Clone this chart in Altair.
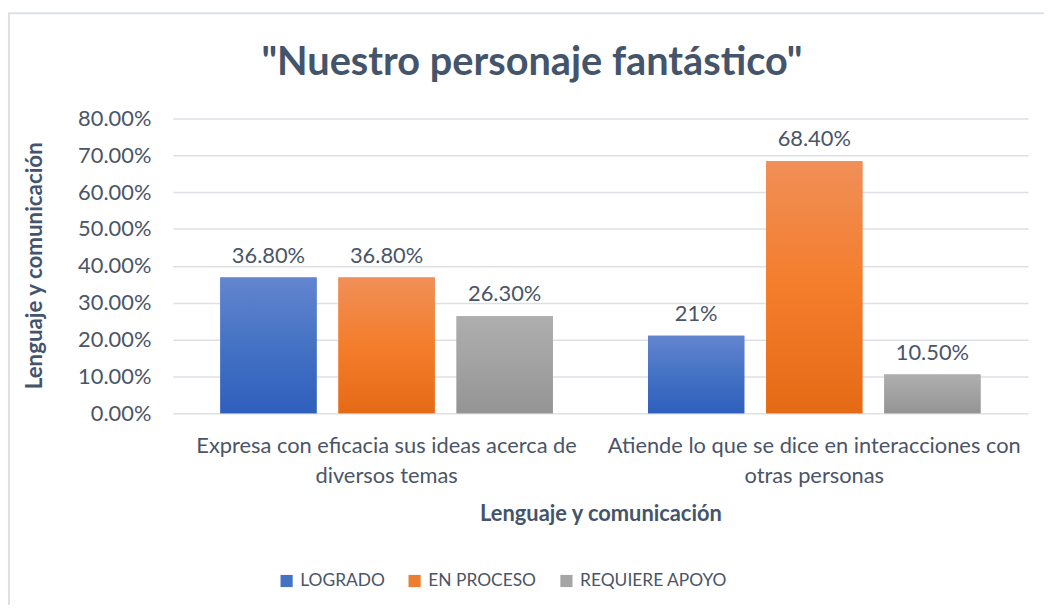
import json
import altair as alt
import pandas as pd

# ---- data ----
category_lines = [
    ["Expresa con eficacia sus ideas acerca de", "diversos temas"],
    ["Atiende lo que se dice en interacciones con", "otras personas"],
]
categories = [" ".join(l) for l in category_lines]
series = ["LOGRADO", "EN PROCESO", "REQUIERE APOYO"]
values = {
    "LOGRADO": [0.368, 0.21],
    "EN PROCESO": [0.368, 0.684],
    "REQUIERE APOYO": [0.263, 0.105],
}
labels = {
    "LOGRADO": ["36.80%", "21%"],
    "EN PROCESO": ["36.80%", "68.40%"],
    "REQUIERE APOYO": ["26.30%", "10.50%"],
}
y_ticks = [0, 0.1, 0.2, 0.3, 0.4, 0.5, 0.6, 0.7, 0.8]
title_text = '"Nuestro personaje fantástico"'
axis_title = "Lenguaje y comunicación"

rows = []
for s in series:
    for i, c in enumerate(categories):
        rows.append({"cat": c, "serie": s, "v": values[s][i], "lab": labels[s][i]})
df = pd.DataFrame(rows)

# ---- styling ----
FONT = "Lato"
TXT = "#4A5567"
TITLE_C = "#44546A"
solid = ["#4472C4", "#ED7D31", "#A5A5A5"]
grads = {
    "LOGRADO": ["#6385CF", "#4472C4", "#2E5FBC"],
    "EN PROCESO": ["#F08F58", "#F47D2B", "#E56A16"],
    "REQUIERE APOYO": ["#AEAEAE", "#A2A2A2", "#949494"],
}

W, H = 862, 297

label_map = {c: l for c, l in zip(categories, category_lines)}
label_expr = " : ".join(
    [f"datum.value == {json.dumps(c)} ? {json.dumps(l)}" for c, l in label_map.items()]
) + " : datum.label"

x_enc = alt.X(
    "cat:N",
    sort=categories,
    scale=alt.Scale(paddingInner=0, paddingOuter=0),
    axis=alt.Axis(
        title=axis_title,
        labelAngle=0,
        labelExpr=label_expr,
        labelFont=FONT,
        labelFontSize=22,
        labelColor=TXT,
        labelLineHeight=30,
        labelPadding=33,
        labelBaseline="middle",
        labelLimit=0,
        ticks=False,
        domain=False,
        titleFont=FONT,
        titleFontSize=22,
        titleFontWeight="bold",
        titleColor=TITLE_C,
        titleY=101,
        titleBaseline="middle",
    ),
)
xo_enc = alt.XOffset(
    "serie:N", sort=series, scale=alt.Scale(paddingInner=0.185, paddingOuter=0.403)
)
y_enc = alt.Y(
    "v:Q",
    scale=alt.Scale(domain=[0, 0.8], nice=False),
    axis=alt.Axis(
        title=axis_title,
        values=y_ticks,
        format=".2%",
        labelFont=FONT,
        labelFontSize=22,
        labelColor=TXT,
        labelPadding=22,
        labelOverlap=False,
        ticks=False,
        domain=False,
        gridColor="#DDE1E6",
        gridWidth=1.5,
        titleFont=FONT,
        titleFontSize=22.5,
        titleFontWeight="bold",
        titleColor=TITLE_C,
        titleX=-139,
        titleY=148,
        titleAngle=-90,
        titleBaseline="middle",
        titleAlign="center",
    ),
)

base = alt.Chart(df)

bars = base.mark_bar().encode(
    x=x_enc,
    xOffset=xo_enc,
    y=y_enc,
    color=alt.Color(
        "serie:N",
        sort=series,
        scale=alt.Scale(domain=series, range=solid),
        legend=alt.Legend(
            title=None,
            orient="none",
            legendX=106,
            legendY=457,
            direction="horizontal",
            symbolType="square",
            symbolSize=150,
            symbolStrokeWidth=0,
            labelFont=FONT,
            labelFontSize=17.5,
            labelColor=TXT,
            labelOffset=5,
            labelLimit=0,
            columnPadding=21,
        ),
    ),
)

grad_layers = []
for s in series:
    c0, c1, c2 = grads[s]
    g = alt.Gradient(
        gradient="linear",
        x1=0, x2=0, y1=0, y2=1,
        stops=[
            alt.GradientStop(color=c0, offset=0),
            alt.GradientStop(color=c1, offset=0.5),
            alt.GradientStop(color=c2, offset=1),
        ],
    )
    grad_layers.append(
        base.transform_filter(alt.datum.serie == s)
        .mark_bar(color=g)
        .encode(x=x_enc, xOffset=xo_enc, y=y_enc)
    )

text = base.mark_text(
    font=FONT, fontSize=22, color=TXT, baseline="alphabetic", dy=-15
).encode(
    x=x_enc,
    xOffset=xo_enc,
    y=y_enc,
    text="lab:N",
)

border = alt.Chart(alt.Data(values=[{"a": 1}])).mark_rect(
    fill=None, stroke="#DDE1E6", strokeWidth=2
).encode(
    x=alt.value(-165), y=alt.value(-106), x2=alt.value(W + 200), y2=alt.value(H + 300)
)

chart = (
    alt.layer(border, bars, *grad_layers, text)
    .properties(
        width=W,
        height=H,
        title=alt.TitleParams(
            text=title_text,
            font=FONT,
            fontSize=40,
            fontWeight="bold",
            color=TITLE_C,
            anchor="middle",
            dx=-69,
            offset=0,
            dy=71,
        ),
        autosize=alt.AutoSizeParams(type="none"),
        padding={"left": 166, "top": 109, "right": 16, "bottom": 191},
    )
    .configure_view(stroke=None)
)

chart.save("out.html", embed_options={"renderer": "svg", "actions": False})
